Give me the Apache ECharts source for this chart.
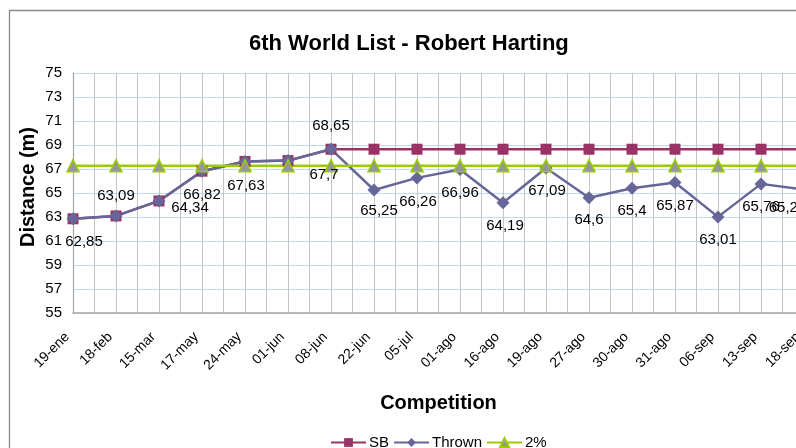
<!DOCTYPE html>
<html>
<head>
<meta charset="utf-8">
<title>6th World List - Robert Harting</title>
<script src="https://cdn.jsdelivr.net/npm/echarts@6/dist/echarts.min.js"></script>
<style>
  html, body { margin: 0; padding: 0; background: #fff; }
  #chart { width: 796px; height: 448px; }
</style>
</head>
<body>
<div id="chart"></div>
<script>
// Competitions of the season
const categories = ['19-ene', '18-feb', '15-mar', '17-may', '24-may', '01-jun', '08-jun', '22-jun', '05-jul',
  '01-ago', '16-ago', '19-ago', '27-ago', '30-ago', '31-ago', '06-sep', '13-sep', '18-sep'];

// Distance thrown in each competition (m)
const thrown = [62.85, 63.09, 64.34, 66.82, 67.63, 67.7, 68.65, 65.25, 66.26,
  66.96, 64.19, 67.09, 64.6, 65.4, 65.87, 63.01, 65.76, 65.28];

// Season best up to each competition (m)
const seasonBest = [62.85, 63.09, 64.34, 66.82, 67.63, 67.7, 68.65, 68.65, 68.65,
  68.65, 68.65, 68.65, 68.65, 68.65, 68.65, 68.65, 68.65, 68.65];

// 2% below the season best (m)
const twoPercent = [67.28, 67.28, 67.28, 67.28, 67.28, 67.28, 67.28, 67.28, 67.28,
  67.28, 67.28, 67.28, 67.28, 67.28, 67.28, 67.28, 67.28, 67.28];

// Y axis range and step
const yMin = 55, yMax = 75, yStep = 2;

// Where each value label of the thrown series sits relative to its point (px)
const labelOffsets = [[11, 23], [0, -20], [31, 7], [0, 23.5], [1, 24], [36, 14], [0, -23], [5, 21], [1, 23.5],
  [0, 23.5], [2, 23.5], [1, 23], [0, 22], [0, 22.5], [0, 23], [0, 23], [0, 22.5], [-16.5, 18.5]];

const FONT = '"Liberation Sans", Arial, sans-serif';
const fmtComma = v => String(v).replace('.', ',');

const chart = echarts.init(document.getElementById('chart'), null, { renderer: 'canvas' });

const option = {
  animation: false,
  backgroundColor: '#ffffff',
  textStyle: { fontFamily: FONT, color: '#000' },
  title: {
    text: '6th World List - Robert Harting',
    left: 249,
    top: 33,
    padding: 0,
    textStyle: { fontFamily: FONT, fontSize: 22, fontWeight: 'bold', color: '#000' }
  },
  graphic: [{
    type: 'rect',
    z: -1,
    shape: { x: 9.5, y: 10.5, width: 900, height: 600 },
    style: { fill: 'none', stroke: '#8a8a8a', lineWidth: 1.3 }
  }],
  legend: {
    data: ['SB', 'Thrown', '2%'],
    left: 330,
    top: 435,
    padding: 0,
    itemWidth: 35,
    itemHeight: 11,
    itemGap: 4,
    textStyle: { fontFamily: FONT, fontSize: 15, color: '#000', padding: [0, 0, 0, -2] }
  },
  grid: { left: 73, top: 73, width: 731, height: 240, outerBoundsMode: 'none', containLabel: false },
  xAxis: {
    type: 'value',
    min: 0,
    max: categories.length - 1,
    interval: 0.5,
    name: 'Competition',
    nameLocation: 'middle',
    nameGap: 80,
    nameMoveOverlap: false,
    nameTextStyle: { fontFamily: FONT, fontSize: 20, fontWeight: 'bold', color: '#000' },
    axisLine: { show: true, lineStyle: { color: '#a6a6a6', width: 1.5 } },
    axisTick: { show: false },
    axisLabel: {
      rotate: 45,
      margin: 16,
      padding: [0, 8, 0, 0],
      fontSize: 14,
      color: '#000',
      fontFamily: FONT,
      showMinLabel: true,
      showMaxLabel: true,
      hideOverlap: false,
      formatter: v => (Number.isInteger(v) ? categories[v] : '')
    },
    splitLine: { show: true, lineStyle: { color: '#c4c4c4', width: 1 } }
  },
  yAxis: {
    type: 'value',
    min: yMin,
    max: yMax,
    interval: yStep,
    name: 'Distance (m)',
    nameLocation: 'middle',
    nameGap: 35,
    nameRotate: 90,
    nameMoveOverlap: false,
    nameTextStyle: { fontFamily: FONT, fontSize: 20, fontWeight: 'bold', color: '#000', padding: [0, 0, 0, 12] },
    axisLine: { show: true, lineStyle: { color: '#a6a6a6', width: 1.2 } },
    axisTick: { show: false },
    axisLabel: { margin: 11, fontSize: 15, color: '#000', fontFamily: FONT },
    splitLine: { show: true, lineStyle: { color: '#bcdcf4', width: 1 } }
  },
  series: [
    {
      name: 'SB',
      type: 'line',
      data: seasonBest.map((v, i) => [i, v]),
      symbol: 'rect',
      symbolSize: 11,
      showAllSymbol: true,
      itemStyle: { color: '#993366' },
      lineStyle: { color: '#993366', width: 2.5 }
    },
    {
      name: 'Thrown',
      type: 'line',
      data: thrown.map((v, i) => ({
        value: [i, v],
        label: { offset: labelOffsets[i] }
      })),
      symbol: 'diamond',
      symbolSize: 13,
      showAllSymbol: true,
      itemStyle: { color: '#666699' },
      lineStyle: { color: '#666699', width: 2.5 },
      label: {
        show: true,
        position: 'inside',
        fontSize: 15,
        fontFamily: FONT,
        color: '#000',
        formatter: p => fmtComma(p.value[1])
      }
    },
    {
      name: '2%',
      type: 'line',
      data: twoPercent.map((v, i) => [i, v]),
      symbol: 'triangle',
      symbolSize: 12,
      showAllSymbol: true,
      itemStyle: { color: '#969696', borderColor: '#99cc00', borderWidth: 1.5 },
      lineStyle: { color: '#99cc00', width: 2.5 }
    }
  ]
};

chart.setOption(option);
</script>
</body>
</html>
